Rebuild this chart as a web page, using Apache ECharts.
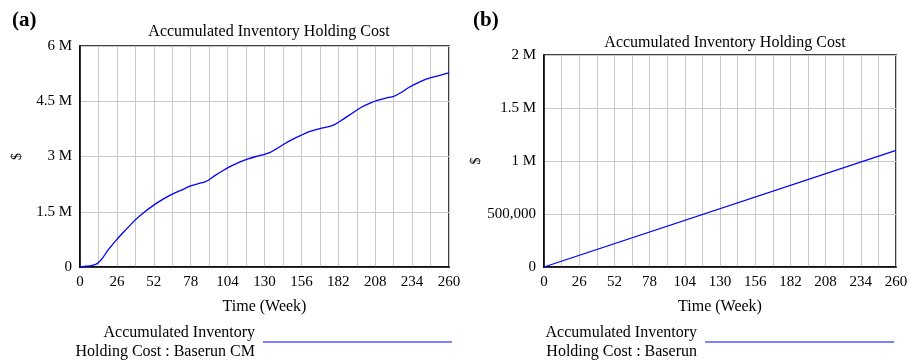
<!DOCTYPE html>
<html>
<head>
<meta charset="utf-8">
<script src="https://cdn.jsdelivr.net/npm/echarts@6/dist/echarts.min.js"></script>
<style>
  html, body { margin: 0; padding: 0; background: #fff; }
  #chart { width: 912px; height: 360px; }
</style>
</head>
<body>
<div id="chart"></div>
<script>
// Simulation output, weeks 0..260
const weeksCM = [0, 4, 8, 11, 13, 16, 20, 26, 32, 39, 45, 52, 58, 65, 71, 78, 84, 88, 91, 95, 100, 106, 112, 118, 124, 130, 134, 138, 143, 149, 156, 162, 169, 176, 180, 185, 192, 198, 204, 210, 216, 221, 226, 232, 238, 244, 250, 256, 260];
const costCM = [0, 0.02e6, 0.04e6, 0.07e6, 0.12e6, 0.25e6, 0.47e6, 0.75e6, 1.0e6, 1.28e6, 1.48e6, 1.68e6, 1.83e6, 1.98e6, 2.08e6, 2.2e6, 2.27e6, 2.31e6, 2.37e6, 2.48e6, 2.6e6, 2.73e6, 2.84e6, 2.93e6, 3.0e6, 3.06e6, 3.11e6, 3.2e6, 3.32e6, 3.45e6, 3.58e6, 3.68e6, 3.76e6, 3.82e6, 3.88e6, 4.0e6, 4.18e6, 4.33e6, 4.44e6, 4.53e6, 4.59e6, 4.63e6, 4.73e6, 4.88e6, 5.0e6, 5.1e6, 5.17e6, 5.23e6, 5.27e6];

const weeksBase = [0, 260];
const costBase = [0, 1.1e6];

const xTicks = [0, 26, 52, 78, 104, 130, 156, 182, 208, 234, 260];
const yTicksCM = ['0', '1.5 M', '3 M', '4.5 M', '6 M'];
const yTicksBase = ['0', '500,000', '1 M', '1.5 M', '2 M'];

const chartTitle = 'Accumulated Inventory Holding Cost';
const nameCM = 'Accumulated Inventory Holding Cost : Baserun CM';
const nameBase = 'Accumulated Inventory Holding Cost : Baserun';

const FONT = "'Liberation Serif', 'Times New Roman', serif";
const BLUE = '#0000ff';
const GRIDLINE = '#c8c8c8';

function pairs(xs, ys) { return xs.map((x, i) => [x, ys[i]]); }

function xAxisFor(gridIndex) {
  return {
    gridIndex, type: 'value', min: 0, max: 260, interval: 13,
    name: 'Time (Week)', nameLocation: 'middle', nameGap: 32,
    nameTextStyle: { fontFamily: FONT, fontSize: 16, color: '#000' },
    axisLine: { show: true, lineStyle: { color: '#000', width: 1.5 } },
    axisTick: { show: false },
    axisLabel: {
      fontFamily: FONT, fontSize: 15, color: '#000', margin: 8,
      formatter: v => (xTicks.indexOf(v) >= 0 ? String(v) : '')
    },
    splitLine: { show: true, lineStyle: { color: GRIDLINE, width: 1 } }
  };
}

function yAxisFor(gridIndex, max, labels) {
  const step = max / (labels.length - 1);
  return {
    gridIndex, type: 'value', min: 0, max, interval: step,
    name: '$', nameLocation: 'middle', nameGap: 56, nameRotate: 90,
    nameTextStyle: { fontFamily: FONT, fontSize: 14, color: '#000' },
    axisLine: { show: true, lineStyle: { color: '#000', width: 1.5 } },
    axisTick: { show: false },
    axisLabel: {
      fontFamily: FONT, fontSize: 15, color: '#000', margin: 8,
      formatter: v => labels[Math.round(v / step)]
    },
    splitLine: { show: true, lineStyle: { color: GRIDLINE, width: 1 } }
  };
}

function legendFor(name, right) {
  return {
    data: [name], right, top: 323, padding: 0, orient: 'vertical', align: 'right',
    icon: 'rect', itemWidth: 189, itemHeight: 1.2,
    selectedMode: false,
    formatter: n => n.replace('Inventory Holding', 'Inventory\nHolding'),
    textStyle: { fontFamily: FONT, fontSize: 16, color: '#000', lineHeight: 19, align: 'right', padding: [0, 3, 0, 0] }
  };
}

const chart = echarts.init(document.getElementById('chart'), null, { renderer: 'canvas' });
chart.setOption({
  animation: false,
  backgroundColor: '#fff',
  title: [
    { text: '(a)', left: 7, top: 5, textStyle: { fontFamily: FONT, fontSize: 21, fontWeight: 'bold', color: '#000' } },
    { text: '(b)', left: 468, top: 5, textStyle: { fontFamily: FONT, fontSize: 21, fontWeight: 'bold', color: '#000' } },
    { text: chartTitle, left: 264, top: 19, textAlign: 'center', textStyle: { fontFamily: FONT, fontSize: 16, fontWeight: 'normal', color: '#000' } },
    { text: chartTitle, left: 720, top: 30, textAlign: 'center', textStyle: { fontFamily: FONT, fontSize: 16, fontWeight: 'normal', color: '#000' } }
  ],
  grid: [
    { left: 80, top: 46, width: 369, height: 221, show: true, borderColor: '#000', borderWidth: 1.5, backgroundColor: 'transparent' },
    { left: 544, top: 55, width: 352, height: 212, show: true, borderColor: '#000', borderWidth: 1.5, backgroundColor: 'transparent' }
  ],
  xAxis: [xAxisFor(0), xAxisFor(1)],
  yAxis: [yAxisFor(0, 6e6, yTicksCM), yAxisFor(1, 2e6, yTicksBase)],
  legend: [legendFor(nameCM, 460), legendFor(nameBase, 18)],
  series: [
    {
      name: nameCM, type: 'line', xAxisIndex: 0, yAxisIndex: 0,
      data: pairs(weeksCM, costCM), smooth: 0.3, showSymbol: false,
      lineStyle: { color: BLUE, width: 1.3 }, itemStyle: { color: BLUE }
    },
    {
      name: nameBase, type: 'line', xAxisIndex: 1, yAxisIndex: 1,
      data: pairs(weeksBase, costBase), showSymbol: false,
      lineStyle: { color: BLUE, width: 1.3 }, itemStyle: { color: BLUE }
    }
  ]
});
</script>
</body>
</html>
